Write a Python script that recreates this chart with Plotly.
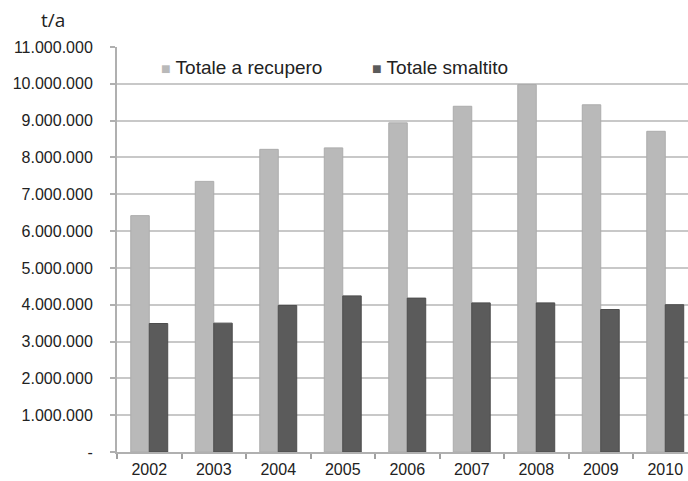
import plotly.graph_objects as go

# Annual waste totals (t/a)
years = ["2002", "2003", "2004", "2005", "2006", "2007", "2008", "2009", "2010"]
recupero = [6420000, 7350000, 8220000, 8260000, 8940000, 9390000, 9980000, 9430000, 8710000]
smaltito = [3490000, 3500000, 3980000, 4240000, 4180000, 4050000, 4050000, 3870000, 4000000]

series_names = ["Totale a recupero", "Totale smaltito"]
series_colors = ["#b9b9b9", "#5b5b5b"]
edge_colors = ["#acacac", "#4d4d4d"]

y_ticks = [i * 1000000 for i in range(12)]
y_labels = ["-"] + [f"{v:,}".replace(",", ".") for v in y_ticks[1:]]

W, H = 688, 481
ML, MR, MT, MB = 117, 0, 47, 29
plot_w = W - ML - MR
plot_h = H - MT - MB
cat_px = 64.5  # width of one category slot

fig = go.Figure()
for name, vals, col, edge in zip(series_names, [recupero, smaltito], series_colors, edge_colors):
    fig.add_trace(go.Bar(
        x=years, y=vals, name=name,
        marker=dict(color=col, line=dict(color=edge, width=1)),
        showlegend=False,
    ))

grid = "#c8c8c8"
fig.update_layout(
    width=W, height=H,
    margin=dict(l=ML, r=MR, t=MT, b=MB),
    paper_bgcolor="white", plot_bgcolor="white",
    barmode="group", bargap=0.427, bargroupgap=0,
    font=dict(family="Liberation Sans, Arial, sans-serif", size=16, color="#222222"),
)
fig.update_xaxes(
    type="category",
    range=[-0.5, -0.5 + plot_w / cat_px],
    tickson="boundaries",
    ticks="outside", ticklen=5, tickwidth=1.5, tickcolor="#a0a0a0",
    ticklabelstandoff=2,
    showline=True, linecolor="#b0b0b0", linewidth=2,
    showgrid=False,
    tickfont=dict(size=16),
)
fig.update_yaxes(
    range=[0, 11000000],
    tickvals=y_ticks, ticktext=y_labels,
    ticks="outside", ticklen=5, tickwidth=1.5, tickcolor="#b0b0b0",
    ticklabelstandoff=14,
    showline=True, linecolor="#b0b0b0", linewidth=2,
    showgrid=True, gridcolor=grid, gridwidth=2,
    zeroline=False,
    tickfont=dict(size=16),
)

def px_x(px):
    return (px - ML) / plot_w

def px_y(py):
    return 1 - (py - MT) / plot_h

# unit label
fig.add_annotation(
    text="t/a", xref="paper", yref="paper",
    x=px_x(53), y=px_y(20), showarrow=False,
    xanchor="center", yanchor="middle",
    font=dict(family="Open Sans, sans-serif", size=19, color="#222222"),
)

# legend entries
for name, col, lx in zip(series_names, series_colors, [159, 370]):
    fig.add_annotation(
        text=f'<span style="color:{col};font-size:16px">■</span> {name}',
        xref="paper", yref="paper", x=px_x(lx), y=px_y(68),
        showarrow=False, xanchor="left", yanchor="middle",
        font=dict(size=19, color="#222222"),
    )

fig.write_html("out.html")
